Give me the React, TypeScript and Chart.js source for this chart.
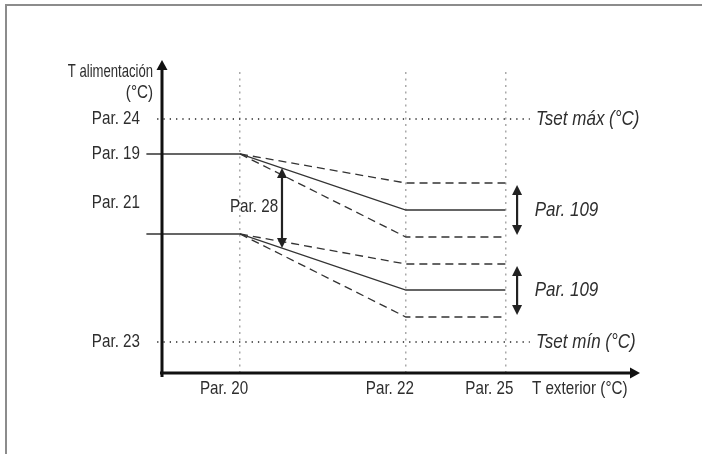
import React, { useEffect, useRef } from 'react';
import { Chart, registerables } from 'chart.js';

Chart.register(...registerables);

const FONT = '"Liberation Sans", Arial, sans-serif';
const TEXT_SX = 0.8; // horizontal condensing of upright text
const ITALIC_SX = 0.81; // horizontal condensing of italic text

// ---- axis ticks ----
const xTickValues = [4, 12.5, 17.6];
const xTickLabels = ['Par. 20', 'Par. 22', 'Par. 25'];
const yTickValues = [3.1, 17, 21.9, 25.4];
const yTickLabels = ['Par. 23', 'Par. 21', 'Par. 19', 'Par. 24'];

// ---- curves ----
const solidX = [-0.8, 4, 12.5, 17.6];
const upperSolidY = [21.9, 21.9, 16.3, 16.3];
const lowerSolidY = [13.9, 13.9, 8.3, 8.3];
const dashX = [4, 12.5, 17.6];
const upperDashHighY = [21.9, 19.0, 19.0];
const upperDashLowY = [21.9, 13.6, 13.6];
const lowerDashHighY = [13.9, 10.9, 10.9];
const lowerDashLowY = [13.9, 5.6, 5.6];
const tsetX = [-0.25, 18.85];
const tsetMaxY = [25.4, 25.4];
const tsetMinY = [3.1, 3.1];

// ---- double arrows: [x, yFrom, yTo] ----
const par28Arrow = [6.15, 20.5, 12.5];
const par109UpperArrow = [18.2, 18.8, 13.8];
const par109LowerArrow = [18.2, 10.7, 5.8];

// ---- axis extents ----
const X_MAX = 24.5;
const Y_MAX = 30.1;
const Y_ARROW_TOP = 31.3;

// ---- text annotations (data coordinates) ----
const notes = [
  { text: 'T alimentación', x: -0.46, y: 30.1, align: 'right', italic: false, size: 19, sx: 0.69 },
  { text: '(°C)', x: -0.46, y: 28.0, align: 'right', italic: false, size: 19, sx: TEXT_SX },
  { text: 'Par. 28', x: 5.95, y: 16.6, align: 'right', italic: false, size: 19, sx: TEXT_SX },
  { text: 'Par. 109', x: 19.1, y: 16.3, align: 'left', italic: true, size: 21, sx: ITALIC_SX },
  { text: 'Par. 109', x: 19.1, y: 8.3, align: 'left', italic: true, size: 21, sx: ITALIC_SX },
  { text: 'Tset máx (°C)', x: 19.17, y: 25.4, align: 'left', italic: true, size: 21, sx: ITALIC_SX },
  { text: 'Tset mín (°C)', x: 19.17, y: 3.1, align: 'left', italic: true, size: 21, sx: ITALIC_SX },
  { text: 'T exterior (°C)', x: 18.96, y: -1.6, align: 'left', italic: false, size: 19, sx: TEXT_SX },
];

const toPts = (xs: number[], ys: number[]) => xs.map((x, i) => ({ x, y: ys[i] }));

function head(ctx: CanvasRenderingContext2D, tx: number, ty: number, dx: number, dy: number, len: number, hw: number) {
  const bx = tx - dx * len;
  const by = ty - dy * len;
  const nx = -dy;
  const ny = dx;
  ctx.beginPath();
  ctx.moveTo(tx, ty);
  ctx.lineTo(bx + nx * hw, by + ny * hw);
  ctx.lineTo(bx - nx * hw, by - ny * hw);
  ctx.closePath();
  ctx.fill();
}

function drawText(ctx: CanvasRenderingContext2D, text: string, x: number, y: number, align: string, font: string, sx: number) {
  ctx.save();
  ctx.translate(x, y);
  ctx.scale(sx, 1);
  ctx.font = font;
  ctx.fillStyle = '#2e2e2e';
  ctx.textAlign = align as CanvasTextAlign;
  ctx.textBaseline = 'middle';
  ctx.fillText(text, 0, 0);
  ctx.restore();
}

const decorPlugin = {
  id: 'decor',
  afterDatasetsDraw(chart: any) {
    const { ctx } = chart;
    const xs = chart.scales.x;
    const ys = chart.scales.y;
    const px = (v: number) => xs.getPixelForValue(v);
    const py = (v: number) => ys.getPixelForValue(v);
    ctx.save();
    // axes
    ctx.strokeStyle = '#111';
    ctx.fillStyle = '#111';
    ctx.lineWidth = 3;
    const x0 = px(0);
    const y0 = py(0);
    const yTop = py(Y_ARROW_TOP);
    const xRight = px(X_MAX);
    ctx.beginPath();
    ctx.moveTo(x0, y0 + 4);
    ctx.lineTo(x0, yTop + 8);
    ctx.stroke();
    head(ctx, x0, yTop, 0, -1, 10, 5.5);
    ctx.beginPath();
    ctx.moveTo(x0 - 2, y0);
    ctx.lineTo(xRight - 8, y0);
    ctx.stroke();
    head(ctx, xRight, y0, 1, 0, 10, 5.5);

    // double arrows
    ctx.strokeStyle = '#222';
    ctx.fillStyle = '#222';
    ctx.lineWidth = 2.2;
    [par28Arrow, par109UpperArrow, par109LowerArrow].forEach(([ax, a1, a2]) => {
      const X = px(ax);
      const Y1 = py(a1);
      const Y2 = py(a2);
      ctx.beginPath();
      ctx.moveTo(X, Y1 + 8);
      ctx.lineTo(X, Y2 - 8);
      ctx.stroke();
      head(ctx, X, Y1, 0, -1, 10, 5);
      head(ctx, X, Y2, 0, 1, 10, 5);
    });

    // tick labels from the scales' own ticks
    const tickFont = `19px ${FONT}`;
    xs.ticks.forEach((t: any, i: number) => {
      const label = t.label ?? xTickLabels[i];
      drawText(ctx, String(label), px(t.value) - 16, y0 + 16, 'center', tickFont, TEXT_SX);
    });
    ys.ticks.forEach((t: any, i: number) => {
      const label = t.label ?? yTickLabels[i];
      drawText(ctx, String(label), x0 - 22, py(t.value), 'right', tickFont, TEXT_SX);
    });

    // annotations
    notes.forEach((n) => {
      drawText(ctx, n.text, px(n.x), py(n.y), n.align, `${n.italic ? 'italic ' : ''}${n.size}px ${FONT}`, n.sx);
    });
    ctx.restore();
  },
};

export default function App() {
  const ref = useRef<HTMLCanvasElement | null>(null);
  useEffect(() => {
    if (!ref.current) return;
    const base = { borderColor: '#333', borderWidth: 1.3, pointRadius: 0, showLine: true, clip: false as any, tension: 0 };
    const dashed = { ...base, borderDash: [8, 5] };
    const dotted = { ...base, borderColor: '#222', borderWidth: 1.4, borderDash: [1.3, 5] };
    const chart = new Chart(ref.current, {
      type: 'scatter',
      data: {
        datasets: [
          { ...base, data: toPts(solidX, upperSolidY) },
          { ...base, data: toPts(solidX, lowerSolidY) },
          { ...dashed, data: toPts(dashX, upperDashHighY) },
          { ...dashed, data: toPts(dashX, upperDashLowY) },
          { ...dashed, data: toPts(dashX, lowerDashHighY) },
          { ...dashed, data: toPts(dashX, lowerDashLowY) },
          { ...dotted, data: toPts(tsetX, tsetMaxY) },
          { ...dotted, data: toPts(tsetX, tsetMinY) },
        ] as any,
      },
      options: {
        animation: false,
        responsive: false,
        devicePixelRatio: 1,
        layout: { padding: { left: 0, top: 72, right: 62, bottom: 41 } },
        plugins: { legend: { display: false }, tooltip: { enabled: false } },
        scales: {
          x: {
            type: 'linear',
            min: 0,
            max: X_MAX,
            afterBuildTicks: (s: any) => {
              s.ticks = xTickValues.map((v) => ({ value: v }));
            },
            afterFit: (s: any) => {
              s.height = 40;
            },
            ticks: {
              display: false,
              autoSkip: false,
              callback: (_v: any, i: number) => xTickLabels[i],
            },
            grid: { color: '#aaa', lineWidth: 1.5, drawTicks: false },
            border: { display: false, dash: [2, 4.5] },
          },
          y: {
            type: 'linear',
            min: 0,
            max: Y_MAX,
            afterBuildTicks: (s: any) => {
              s.ticks = yTickValues.map((v) => ({ value: v }));
            },
            afterFit: (s: any) => {
              s.width = 162;
            },
            ticks: {
              display: false,
              autoSkip: false,
              callback: (_v: any, i: number) => yTickLabels[i],
            },
            grid: { display: false, drawTicks: false },
            border: { display: false },
          },
        } as any,
      },
      plugins: [decorPlugin],
    });
    return () => chart.destroy();
  }, []);

  return (
    <div style={{ position: 'fixed', left: 0, top: 0, width: 702, height: 454, overflow: 'hidden', background: '#fff' }}>
      <canvas ref={ref} width={702} height={454} style={{ position: 'absolute', left: 0, top: 0, width: 702, height: 454 }} />
      <div
        style={{
          position: 'absolute',
          left: 5,
          top: 4,
          width: 720,
          height: 480,
          borderTop: '2px solid #8c8c8c',
          borderLeft: '2px solid #8c8c8c',
          pointerEvents: 'none',
        }}
      />
    </div>
  );
}
